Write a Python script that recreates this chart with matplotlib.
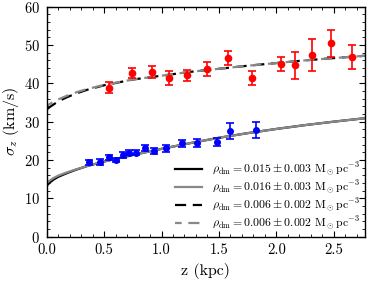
import numpy as np
import matplotlib
matplotlib.use('Agg')
import matplotlib.pyplot as plt

plt.rcParams['font.family'] = 'serif'
plt.rcParams['font.serif'] = ['cmr10']
plt.rcParams['mathtext.fontset'] = 'cm'
plt.rcParams['axes.formatter.use_mathtext'] = True

# red sample (outer)
z_red = [0.54, 0.745, 0.913, 1.063, 1.22, 1.40, 1.58, 1.79, 2.04, 2.16, 2.31, 2.48, 2.66]
s_red = [38.9, 42.7, 43.0, 41.4, 42.1, 43.8, 46.6, 41.4, 45.0, 44.7, 47.4, 50.5, 46.8]
e_red = [1.5, 1.2, 1.6, 1.8, 1.5, 1.9, 1.9, 1.8, 1.9, 3.5, 4.1, 3.5, 3.1]

# blue sample (inner)
z_blue = [0.37, 0.46, 0.54, 0.60, 0.665, 0.715, 0.78, 0.855, 0.935, 1.04, 1.18, 1.31, 1.48, 1.60, 1.82]
s_blue = [19.4, 19.5, 20.7, 20.0, 21.3, 21.9, 21.9, 23.1, 22.3, 23.0, 24.4, 24.4, 24.7, 27.6, 27.9]
e_blue = [0.6, 0.7, 0.7, 0.6, 0.7, 0.7, 0.7, 0.7, 0.8, 0.8, 0.9, 1.0, 1.1, 2.1, 2.1]

# model curves
z_mod = [0.0, 0.03, 0.06, 0.1, 0.17, 0.25, 0.35, 0.5, 0.75, 1.0, 1.25, 1.5, 1.75, 2.0, 2.25, 2.5, 2.77]
solid_black = [13.3, 14.2, 14.9, 15.6, 16.5, 17.4, 18.4, 19.6, 21.3, 22.9, 24.4, 25.8, 27.0, 28.1, 29.1, 30.0, 30.9]
solid_gray = [14.0, 14.7, 15.3, 15.9, 16.7, 17.5, 18.4, 19.6, 21.3, 22.9, 24.4, 25.8, 27.0, 28.1, 29.1, 30.0, 30.9]
dash_black = [33.2, 33.9, 34.5, 35.3, 36.3, 37.3, 38.3, 39.5, 41.0, 42.0, 43.0, 43.8, 44.6, 45.3, 46.0, 46.6, 47.2]
dash_gray = [34.1, 34.7, 35.2, 35.8, 36.7, 37.6, 38.5, 39.6, 41.0, 42.0, 43.0, 43.8, 44.6, 45.3, 46.0, 46.6, 47.2]

labels = [r'$\rho_{\rm dm} = 0.015 \pm 0.003\ {\rm M_\odot pc^{-3}}$',
          r'$\rho_{\rm dm} = 0.016 \pm 0.003\ {\rm M_\odot pc^{-3}}$',
          r'$\rho_{\rm dm} = 0.006 \pm 0.002\ {\rm M_\odot pc^{-3}}$',
          r'$\rho_{\rm dm} = 0.006 \pm 0.002\ {\rm M_\odot pc^{-3}}$']

fig = plt.figure(figsize=(3.74, 2.81), dpi=100)
ax = fig.add_axes([0.125, 0.158, 0.85, 0.818])

ax.plot(z_mod, solid_black, color='black', lw=1.6, label=labels[0], zorder=2)
ax.plot(z_mod, solid_gray, color='#888888', lw=1.6, label=labels[1], zorder=2)
ax.plot(z_mod, dash_black, color='black', lw=1.6, ls=(0, (5, 3)), label=labels[2], zorder=2)
ax.plot(z_mod, dash_gray, color='#888888', lw=1.6, ls=(2, (5, 3)), label=labels[3], zorder=2)

ax.errorbar(z_red, s_red, yerr=e_red, fmt='o', color='red', ms=4.5, capsize=3,
            elinewidth=1.2, capthick=1.2, zorder=3)
ax.errorbar(z_blue, s_blue, yerr=e_blue, fmt='o', color='blue', ms=4, capsize=3,
            elinewidth=1.2, capthick=1.2, zorder=3)

ax.set_xlim(0, 2.77)
ax.set_ylim(0, 60)
ax.set_xticks([0.0, 0.5, 1.0, 1.5, 2.0, 2.5])
ax.set_xticklabels(['0.0', '0.5', '1.0', '1.5', '2.0', '2.5'])
ax.set_yticks([0, 10, 20, 30, 40, 50, 60])
ax.set_xticks(np.arange(0, 2.8, 0.1), minor=True)
ax.set_yticks(np.arange(0, 61, 2), minor=True)
ax.tick_params(which='both', direction='in', top=True, right=True, labelsize=10.5)
ax.tick_params(which='major', length=4, pad=5)
ax.tick_params(which='minor', length=2)
for sp in ax.spines.values():
    sp.set_linewidth(1.0)

ax.set_xlabel('z (kpc)', fontsize=11.5, labelpad=4)
ax.set_ylabel(r'$\sigma_z$ (km/s)', fontsize=11.5, labelpad=2)

leg = ax.legend(loc='lower right', fontsize=8.5, frameon=False, handlelength=2.3,
                handletextpad=0.8, labelspacing=0.05, borderaxespad=0.0)

fig.savefig('out.png', dpi=100)
